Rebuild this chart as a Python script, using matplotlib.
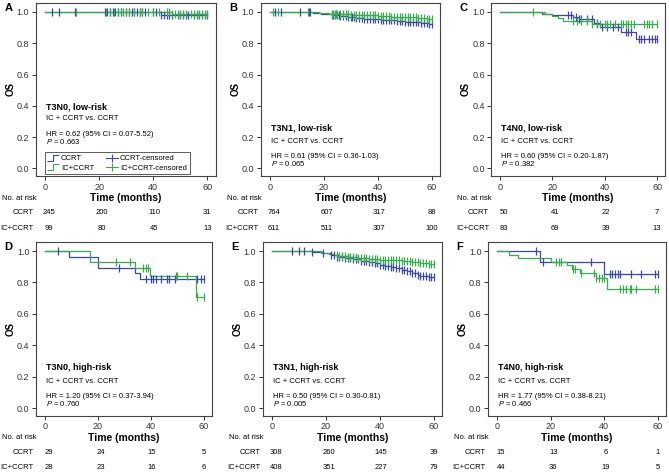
"""Kaplan-Meier OS curves, IC + CCRT vs. CCRT, six risk subgroups."""

import matplotlib
matplotlib.use("agg")
import matplotlib.pyplot as plt
import numpy as np
from matplotlib.lines import Line2D
from matplotlib.path import Path
from matplotlib.transforms import blended_transform_factory

plt.rcParams["font.family"] = ["Liberation Sans", "DejaVu Sans"]
plt.rcParams["mathtext.fontset"] = "custom"
plt.rcParams["mathtext.it"] = "Liberation Sans:italic"
plt.rcParams["mathtext.rm"] = "Liberation Sans"

BLUE = "#3A47A8"
GREEN = "#33AE48"
W, H = 669, 474

LETTERS = ["A", "B", "C", "D", "E", "F"]
TITLES = ["T3N0, low-risk", "T3N1, low-risk", "T4N0, low-risk",
          "T3N0, high-risk", "T3N1, high-risk", "T4N0, high-risk"]
HR_TEXT = ["HR = 0.62 (95% CI = 0.07-5.52)", "HR = 0.61 (95% CI = 0.36-1.03)",
           "HR = 0.60 (95% CI = 0.20-1.87)", "HR = 1.20 (95% CI = 0.37-3.94)",
           "HR = 0.50 (95% CI = 0.30-0.81)", "HR = 1.77 (95% CI = 0.38-8.21)"]
P_TEXT = ["0.663", "0.065", "0.382", "0.760", "0.005", "0.466"]

RISK_TIMES = [0, 20, 40, 60]
RISK_CCRT = [[245, 200, 110, 31], [764, 607, 317, 88], [50, 41, 22, 7],
             [29, 24, 15, 5], [308, 260, 145, 39], [15, 13, 6, 1]]
RISK_IC = [[99, 80, 45, 13], [611, 511, 307, 100], [83, 69, 39, 13],
           [28, 23, 16, 6], [408, 351, 227, 79], [44, 36, 19, 5]]

# event times / survival after each step / censor times, per panel
A_CCRT_T = [43]
A_CCRT_S = [0.982]
A_CCRT_C = [2.5, 5, 11, 22, 23, 24, 25, 26, 27, 28, 30, 31, 32, 33, 34, 35, 36,
            37, 40, 41, 43, 44, 45, 46, 47, 49, 50, 51, 52, 53, 55, 56, 57, 58, 59, 60]
A_IC_T = [47]
A_IC_S = [0.988]
A_IC_C = [11.5, 22.5, 24, 25.5, 27, 28, 29, 30, 31, 33, 35, 36, 38, 40, 42, 45,
          46, 47, 48, 49, 50, 51, 52, 54, 55, 56, 57, 58, 59, 60]

B_CCRT_T = [13, 16, 19, 21, 23, 26, 29, 32, 35, 38, 41, 44, 47, 50, 53, 56, 59]
B_CCRT_S = [0.998, 0.995, 0.99, 0.985, 0.978, 0.972, 0.968, 0.963, 0.958, 0.955,
            0.952, 0.948, 0.943, 0.938, 0.934, 0.93, 0.924]
B_CCRT_C = [2, 4, 11, 14.5, 15, 23, 23.5, 24, 25, 25.5, 26, 27, 28, 29, 30, 30.5,
            31, 32, 33, 34, 35, 36, 37, 38, 39, 40, 41, 42, 43, 44, 45, 46, 47,
            48, 49, 50, 51, 52, 53, 54, 55, 56, 57, 58, 59, 60]
B_IC_T = [14, 18, 22, 25, 30, 35, 40, 45, 50, 55, 58]
B_IC_S = [0.998, 0.993, 0.987, 0.984, 0.982, 0.979, 0.976, 0.971, 0.966, 0.961, 0.956]
B_IC_C = [1, 3, 14, 23, 23.5, 24, 24.5, 25, 26, 27, 28, 29, 30, 31, 32, 33, 34,
          35, 36, 37, 38, 39, 40, 41, 42, 43, 44, 45, 46, 47, 48, 49, 50, 51,
          52, 53, 54, 55, 56, 57, 58, 59, 60]

C_CCRT_T = [16, 20, 28, 30, 36, 38, 46, 52]
C_CCRT_S = [0.99, 0.983, 0.97, 0.957, 0.93, 0.907, 0.869, 0.826]
C_CCRT_C = [26, 27, 29, 30, 31, 33, 35, 37, 39, 41, 43, 45, 48, 49, 50, 53, 54,
            55, 57, 58, 59, 60]
C_IC_T = [17, 20, 22, 24, 35]
C_IC_S = [0.988, 0.976, 0.964, 0.94, 0.926]
C_IC_C = [12.5, 28, 29.5, 31, 33, 35, 37, 38, 40, 41, 42, 44, 46, 47, 48, 49, 50,
          51, 55, 56, 57, 58, 60]

D_CCRT_T = [9, 20, 34, 36]
D_CCRT_S = [0.963, 0.892, 0.858, 0.82]
D_CCRT_C = [5, 28, 38, 40, 41, 42, 44, 46, 47, 49, 57.5, 59, 60]
D_IC_T = [17, 34, 39.5, 57]
D_IC_S = [0.929, 0.89, 0.843, 0.71]
D_IC_C = [27, 32, 37, 38, 39, 49.5, 50, 53.5, 57.5, 60]

E_CCRT_T = [10, 15, 19, 22, 24, 27, 30, 33, 36, 38, 40, 42, 44, 46, 48, 50, 52,
            54, 55, 58]
E_CCRT_S = [0.997, 0.992, 0.985, 0.972, 0.962, 0.955, 0.948, 0.938, 0.93, 0.922,
            0.914, 0.905, 0.897, 0.89, 0.882, 0.874, 0.862, 0.85, 0.842, 0.836]
E_CCRT_C = [7.5, 10, 12, 15, 19, 22, 23, 24, 25, 26, 27, 28, 29, 30, 31, 32, 33,
            34, 35, 36, 37, 38, 39, 40, 41, 42, 43, 44, 45, 46, 47, 48, 49, 50,
            51, 52, 53, 54, 55, 56, 57, 58, 59, 60]
E_IC_T = [12, 18, 21, 23, 25, 28, 32, 36, 40, 44, 48, 52, 55, 58]
E_IC_S = [0.998, 0.99, 0.983, 0.975, 0.97, 0.965, 0.958, 0.952, 0.946, 0.94,
          0.935, 0.928, 0.922, 0.919]
E_IC_C = [24, 25, 26, 27, 28, 29, 30, 31, 32, 33, 34, 35, 36, 37, 38, 39, 40, 41,
          42, 43, 44, 45, 46, 47, 48, 49, 50, 51, 52, 53, 54, 55, 56, 57, 58, 59, 60]

F_CCRT_T = [16, 40]
F_CCRT_S = [0.933, 0.855]
F_CCRT_C = [14.5, 17, 35, 42, 43, 44, 45, 46, 50, 53.5, 59, 60]
F_IC_T = [4.5, 8, 20, 26, 28, 31, 37, 41]
F_IC_S = [0.977, 0.955, 0.932, 0.909, 0.884, 0.858, 0.83, 0.755]
F_IC_C = [22, 23, 24, 28.5, 29, 31.5, 36, 37, 38, 39, 40, 46, 47, 48, 49.5, 50,
          52, 59, 60]

CURVES = [
    (A_CCRT_T, A_CCRT_S, A_CCRT_C, A_IC_T, A_IC_S, A_IC_C),
    (B_CCRT_T, B_CCRT_S, B_CCRT_C, B_IC_T, B_IC_S, B_IC_C),
    (C_CCRT_T, C_CCRT_S, C_CCRT_C, C_IC_T, C_IC_S, C_IC_C),
    (D_CCRT_T, D_CCRT_S, D_CCRT_C, D_IC_T, D_IC_S, D_IC_C),
    (E_CCRT_T, E_CCRT_S, E_CCRT_C, E_IC_T, E_IC_S, E_IC_C),
    (F_CCRT_T, F_CCRT_S, F_CCRT_C, F_IC_T, F_IC_S, F_IC_C),
]

# axes frames in pixels: left, top, width, height
FRAMES = [(35.5, 2.6, 180, 173.7), (260.5, 2.6, 179.6, 173.7), (491, 2.6, 174, 173.7),
          (35.7, 241.6, 176, 174.3), (262.5, 241.6, 179.6, 174.3), (487.6, 241.6, 178.4, 174.3)]


def fx(x):
    return x / W


def fy(y):
    return 1 - y / H


def draw_km(ax, times, surv, cens, color):
    times = np.asarray(times, float)
    surv = np.asarray(surv, float)
    cens = np.asarray(cens, float)
    t = np.concatenate([[0.0], times, [max(cens.max(), times.max())]])
    s = np.concatenate([[1.0], surv, [surv[-1]]])
    ax.step(t, s, where="post", color=color, lw=0.9, zorder=3)
    idx = np.searchsorted(t, cens, side="right") - 1
    ax.plot(cens, s[idx], ls="none", marker="|", ms=6, mew=0.9, color=color, zorder=4)


fig = plt.figure(figsize=(W / 100, H / 100), dpi=100)

for i, (l, t, w, h) in enumerate(FRAMES):
    ax = fig.add_axes([fx(l), fy(t + h), w / W, h / H])
    ct, cs, cc, it, is_, ic = CURVES[i]
    draw_km(ax, ct, cs, cc, BLUE)
    draw_km(ax, it, is_, ic, GREEN)

    ax.set_xlim(-3.5, 63)
    ax.set_ylim(-0.05, 1.06)
    ax.set_xticks([0, 20, 40, 60])
    ax.set_yticks([0.0, 0.2, 0.4, 0.6, 0.8, 1.0])
    ax.set_yticklabels(["0.0", "0.2", "0.4", "0.6", "0.8", "1.0"])
    ax.tick_params(labelsize=6.5, length=3, width=0.7, pad=1.5, colors="#333333")
    for sp in ax.spines.values():
        sp.set_linewidth(0.8)
        sp.set_color("#444444")

    # subgroup annotations
    ys = [0.39, 0.32, 0.22, 0.17] if i == 0 else [0.26, 0.17, 0.075, 0.03]
    ax.text(0.3, ys[0], TITLES[i], fontsize=6.5, fontweight="bold", va="center")
    ax.text(0.3, ys[1], "IC + CCRT vs. CCRT", fontsize=5.5, va="center")
    ax.text(0.3, ys[2], HR_TEXT[i], fontsize=5.5, va="center")
    ax.text(0.3, ys[3], r"$\it{P}$ = " + P_TEXT[i], fontsize=5.5, va="center")

    if i == 0:
        step = Path([(-1, -0.5), (0, -0.5), (0, 0.5), (1, 0.5)],
                    [Path.MOVETO, Path.LINETO, Path.LINETO, Path.LINETO])
        handles = [
            Line2D([], [], ls="none", marker=step, ms=9, mfc="none", mec=BLUE, mew=0.8),
            Line2D([], [], ls="none", marker=step, ms=9, mfc="none", mec=GREEN, mew=0.8),
            Line2D([], [], color=BLUE, lw=0.8, marker="|", ms=6, mew=0.8),
            Line2D([], [], color=GREEN, lw=0.8, marker="|", ms=6, mew=0.8),
        ]
        labels = ["CCRT", "IC+CCRT", "CCRT-censored", "IC+CCRT-censored"]
        leg = ax.legend(handles, labels, ncol=2, fontsize=5.5, loc="lower left",
                        bbox_to_anchor=(0.05, 0.012), frameon=True, fancybox=False,
                        borderpad=0.35, handlelength=1.6, handletextpad=0.2,
                        columnspacing=1.6, labelspacing=0.25, borderaxespad=0)
        leg.get_frame().set_edgecolor("#333333")
        leg.get_frame().set_linewidth(0.7)

    # outer labels
    fig.text(fx(l - 25), fy(t + h / 2), "OS", rotation=90, fontsize=7,
             fontweight="bold", ha="center", va="center")
    fig.text(fx(l - 31), fy(t + 5), LETTERS[i], fontsize=8, fontweight="bold",
             ha="left", va="center")
    fig.text(fx(l + w / 2), fy(t + h + 22), "Time (months)", fontsize=7.5,
             fontweight="bold", ha="center", va="center")

    # numbers at risk
    tr = blended_transform_factory(ax.transData, fig.transFigure)
    row0 = t + h + 22
    fig.text(fx(l + 1), fy(row0), "No. at risk", fontsize=5.5, ha="right", va="center")
    fig.text(fx(l - 2), fy(row0 + 14.5), "CCRT", fontsize=5.5, ha="right", va="center")
    fig.text(fx(l - 2), fy(row0 + 30), "IC+CCRT", fontsize=5.5, ha="right", va="center")
    for tt, n1, n2 in zip(RISK_TIMES, RISK_CCRT[i], RISK_IC[i]):
        ax.text(tt + 1.5 * (1 - tt / 60), fy(row0 + 14.5), str(n1), transform=tr,
                fontsize=5.5, ha="center", va="center")
        ax.text(tt + 1.5 * (1 - tt / 60), fy(row0 + 30), str(n2), transform=tr,
                fontsize=5.5, ha="center", va="center")

fig.savefig("out.png", dpi=100)
